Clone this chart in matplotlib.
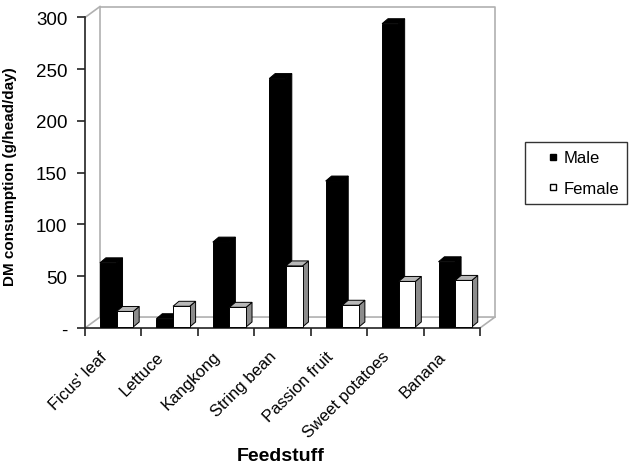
import numpy as np
import matplotlib
matplotlib.use('Agg')
import matplotlib.pyplot as plt
from matplotlib.patches import Polygon
from matplotlib.lines import Line2D

feedstuffs = ["Ficus' leaf", 'Lettuce', 'Kangkong', 'String bean',
              'Passion fruit', 'Sweet potatoes', 'Banana']
male = [62, 8, 82, 240, 141, 293, 63]
female = [15, 20, 19, 59, 21, 44, 45]
yticks = [0, 50, 100, 150, 200, 250, 300]
ytick_labels = ['-', '50', '100', '150', '200', '250', '300']

plt.rcParams['font.family'] = ['Liberation Sans', 'DejaVu Sans']

n = len(feedstuffs)
wall_dx, wall_dy = 0.266, 10.6   # depth of floor / back wall
bar_dx, bar_dy = 0.105, 4.8      # depth of each bar
width = 0.295
base = 1.0
wall = '#b0b0b0'

fig = plt.figure(figsize=(6.36, 4.64), dpi=100)
ax = fig.add_axes([85/636, 135/464, 410/636, 321.5/464])
ax.set_xlim(0, n + wall_dx)
ax.set_ylim(0, 300 + wall_dy)

# back wall + floor
ax.plot([wall_dx, wall_dx, n + wall_dx, n + wall_dx],
        [wall_dy, 300 + wall_dy, 300 + wall_dy, wall_dy], color=wall, lw=1.2, clip_on=False)
ax.plot([0, wall_dx, n + wall_dx, n], [0, wall_dy, wall_dy, 0], color=wall, lw=1.2, clip_on=False)
ax.plot([0, wall_dx], [300, 300 + wall_dy], color=wall, lw=1.2, clip_on=False)

z = [3.0]
def bar3d(x0, h, face, side, top):
    x1 = x0 + width
    y1 = base + h
    z[0] += 0.01
    ax.add_patch(Polygon([(x1, base), (x1 + bar_dx, base + bar_dy), (x1 + bar_dx, y1 + bar_dy), (x1, y1)],
                         closed=True, facecolor=side, edgecolor='black', lw=0.7, zorder=z[0], clip_on=False))
    ax.add_patch(Polygon([(x0, y1), (x0 + bar_dx, y1 + bar_dy), (x1 + bar_dx, y1 + bar_dy), (x1, y1)],
                         closed=True, facecolor=top, edgecolor='black', lw=0.7, zorder=z[0], clip_on=False))
    ax.bar(x0, h, width, bottom=base, align='edge', color=face, edgecolor='black', lw=0.7,
           zorder=z[0] + 0.001, clip_on=False)

for i in range(n):
    bar3d(i + 0.265, male[i], 'black', 'black', 'black')
    bar3d(i + 0.265 + width, female[i], 'white', '#8c8c8c', '#b8b8b8')

for s in ['top', 'right']:
    ax.spines[s].set_visible(False)
ax.spines['left'].set_bounds(0, 300)
ax.spines['bottom'].set_bounds(0, n)
for s in ['left', 'bottom']:
    ax.spines[s].set_color('#222222')
    ax.spines[s].set_linewidth(1.2)
    ax.spines[s].set_zorder(2.5)

ax.set_yticks(yticks, ytick_labels, fontsize=13.5)
ax.tick_params(axis='y', length=5.8, width=1.2, pad=7, color='#222222')
ax.set_xticks(np.arange(n + 1), [''] * (n + 1))
ax.set_xticks(np.arange(n) + 0.5 - 0.15, feedstuffs, minor=True, rotation=45, ha='right',
              va='center', rotation_mode='anchor', fontsize=12)
ax.tick_params(axis='x', which='major', length=5.8, width=1.2, color='#222222')
ax.tick_params(axis='x', which='minor', length=0, pad=18.5)

ax.set_ylabel('DM consumption (g/head/day)', fontsize=11, fontweight='bold')
ax.yaxis.set_label_coords(-0.166, 0.473)
ax.set_xlabel('Feedstuff', fontsize=14, fontweight='bold')
ax.xaxis.set_label_coords(0.478, -0.370)

handles = [Line2D([], [], marker='s', ls='None', markersize=5, markerfacecolor='black',
                  markeredgecolor='black', label='Male'),
           Line2D([], [], marker='s', ls='None', markersize=5, markerfacecolor='white',
                  markeredgecolor='black', label='Female')]
leg = fig.legend(handles=handles, loc='upper left', bbox_to_anchor=(525/636, 1 - 143/464),
                 fontsize=12, frameon=True, fancybox=False, edgecolor='black',
                 handlelength=2.4, handletextpad=-0.6, labelspacing=0.94,
                 borderpad=0.5, borderaxespad=0)
leg.get_frame().set_linewidth(1.0)

plt.savefig('out.png', dpi=100)
